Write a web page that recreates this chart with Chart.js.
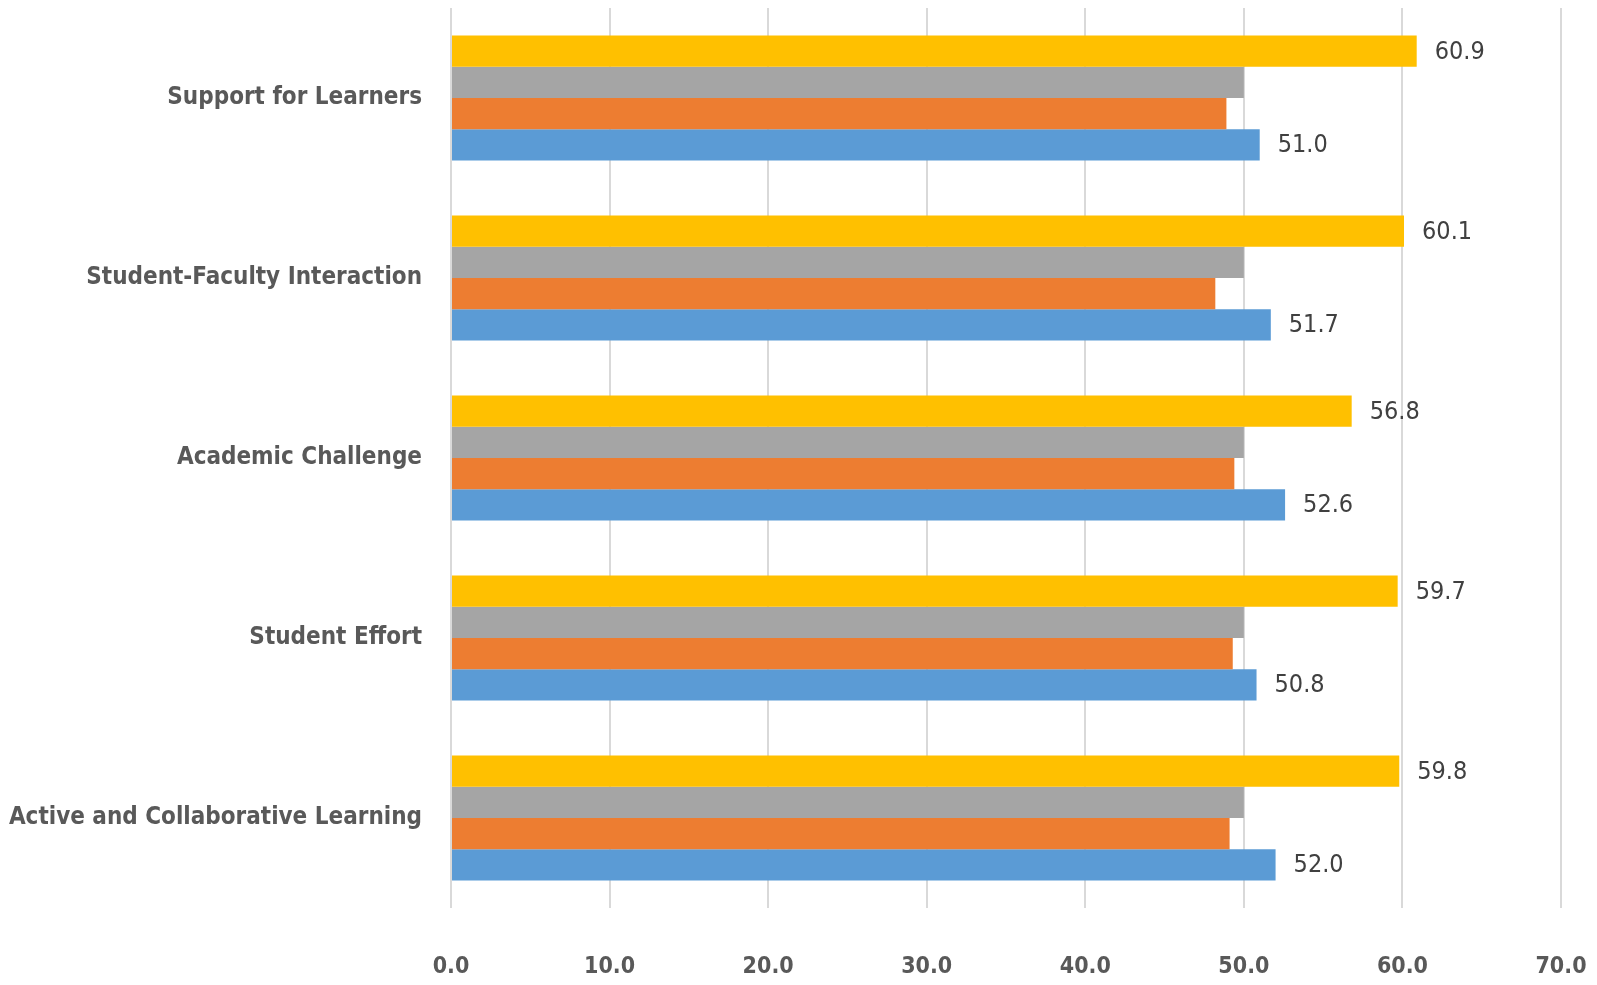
<!DOCTYPE html>
<html>
<head>
<meta charset="utf-8">
<script src="https://cdn.jsdelivr.net/npm/chart.js@4"></script>
<style>
  html, body { margin: 0; padding: 0; background: #fff; }
  #wrap { width: 1597px; height: 985px; }
</style>
</head>
<body>
<div id="wrap"><canvas id="benchGraph"></canvas></div>
<script>
const categories = [
    'Support for Learners',
    'Student-Faculty Interaction',
    'Academic Challenge',
    'Student Effort',
    'Active and Collaborative Learning'
];

const series1 = [60.9, 60.1, 56.8, 59.7, 59.8];   // yellow
const series2 = [50.0, 50.0, 50.0, 50.0, 50.0];   // gray
const series3 = [48.9, 48.2, 49.4, 49.3, 49.1];   // orange
const series4 = [51.0, 51.7, 52.6, 50.8, 52.0];   // blue

const xTicks = [0, 10, 20, 30, 40, 50, 60, 70];

const FONT = '"Liberation Sans Narrow", "DejaVu Sans Condensed", "DejaVu Sans", sans-serif';

// draws the value next to the end of the yellow and blue bars
const valueLabels = {
    id: 'valueLabels',
    afterDatasetsDraw(chart) {
        const ctx = chart.ctx;
        ctx.save();
        ctx.font = 'normal condensed 25px ' + FONT;
        ctx.fillStyle = '#404040';
        ctx.textAlign = 'left';
        ctx.textBaseline = 'middle';
        [0, 3].forEach(function(i) {
            const meta = chart.getDatasetMeta(i);
            const data = chart.data.datasets[i].data;
            meta.data.forEach(function(bar, j) {
                ctx.fillText(data[j].toFixed(1), bar.x + 18, bar.y + 1);
            });
        });
        ctx.restore();
    }
};

document.addEventListener('DOMContentLoaded', function() {
    const ctx = document.getElementById('benchGraph').getContext('2d');
    new Chart(ctx, {
        type: 'bar',
        data: {
            labels: categories,
            datasets: [
                { label: 'Series 1', data: series1, backgroundColor: '#FFC000' },
                { label: 'Series 2', data: series2, backgroundColor: '#A5A5A5' },
                { label: 'Series 3', data: series3, backgroundColor: '#ED7D31' },
                { label: 'Series 4', data: series4, backgroundColor: '#5B9BD5' }
            ]
        },
        options: {
            indexAxis: 'y',
            responsive: true,
            maintainAspectRatio: false,
            animation: false,
            devicePixelRatio: 1,
            layout: { padding: { top: 8, right: 36, left: 0, bottom: 0 } },
            datasets: {
                bar: { categoryPercentage: 0.695, barPercentage: 1.0 }
            },
            plugins: {
                legend: { display: false },
                tooltip: { enabled: false }
            },
            scales: {
                x: {
                    min: 0,
                    max: 70,
                    afterBuildTicks: function(scale) {
                        scale.ticks = xTicks.map(v => ({ value: v }));
                    },
                    afterFit: function(scale) {
                        scale.height = 77;
                        scale.paddingLeft = 0;
                        scale.paddingRight = 0;
                    },
                    border: { display: false },
                    grid: { color: '#D9D9D9', lineWidth: 2, drawTicks: false },
                    ticks: {
                        padding: 45,
                        color: '#595959',
                        font: { family: FONT, size: 23, weight: 'bold condensed' },
                        callback: v => Number(v).toFixed(1)
                    }
                },
                y: {
                    afterFit: function(scale) {
                        scale.width = 451;
                        scale.paddingTop = 0;
                        scale.paddingBottom = 0;
                    },
                    border: { display: false },
                    grid: { display: false },
                    ticks: {
                        padding: 21,
                        color: '#595959',
                        font: { family: FONT, size: 24, weight: 'bold condensed' }
                    }
                }
            }
        },
        plugins: [valueLabels]
    });
});
</script>
</body>
</html>
